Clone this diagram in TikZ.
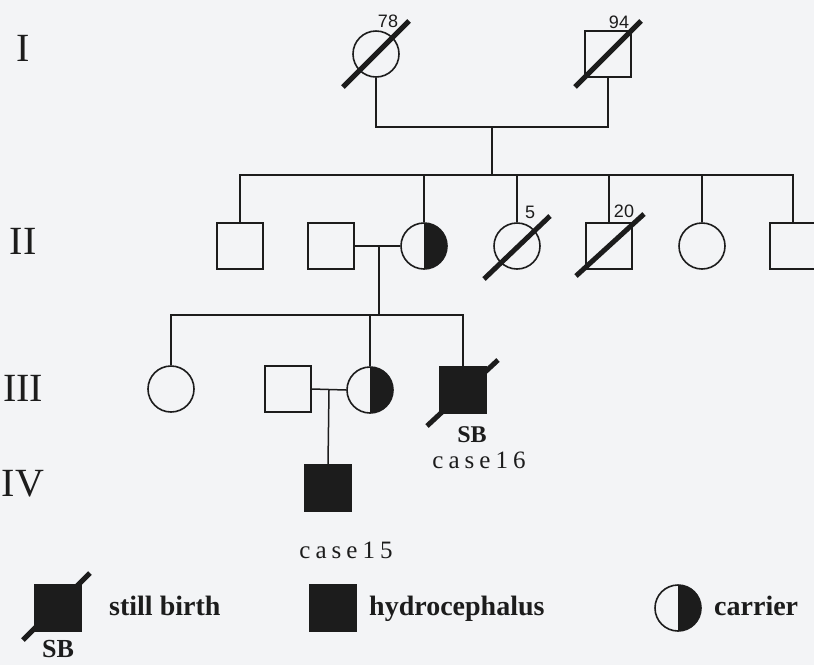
\documentclass[tikz,border=0pt]{standalone}
\usepackage{fontspec}
\setmainfont{Liberation Serif}
\newfontfamily\labsans{Liberation Sans}
\newfontfamily\casefont[LetterSpace=20]{Liberation Serif}
\definecolor{ink}{RGB}{28,28,28}
\definecolor{bg}{RGB}{243,244,246}
\tikzset{
  ln/.style={draw=ink, line width=1.5pt},
  sq/.style={draw=ink, line width=1.6pt, rectangle, minimum size=46pt, inner sep=0pt},
  circ/.style={draw=ink, line width=1.6pt, circle, minimum size=46pt, inner sep=0pt},
  aff/.style={fill=ink},
  slash/.style={draw=ink, line width=5pt},
  gen/.style={font=\fontsize{40}{40}\selectfont, text=ink, inner sep=0pt},
  age/.style={font=\labsans\fontsize{18}{18}\selectfont, text=ink, inner sep=0pt, anchor=base},
  casel/.style={font=\casefont\fontsize{25}{25}\selectfont, text=ink, inner sep=0pt, anchor=base},
  sbl/.style={font=\bfseries\fontsize{24}{24}\selectfont, text=ink, inner sep=0pt, anchor=base},
  legt/.style={font=\bfseries\fontsize{28}{28}\selectfont, text=ink, inner sep=0pt, anchor=base west},
}
\begin{document}
\begin{tikzpicture}[x=1pt,y=-1pt]
\fill[bg] (0,0) rectangle (814,665);
\useasboundingbox (0,0) rectangle (814,665);

% generation numerals
\node[gen] (gI)   at (23,48)  {I};
\node[gen] (gII)  at (23,241) {II};
\node[gen] (gIII) at (23,388) {III};
\node[gen] (gIV)  at (23,484) {IV};

% Generation I
\node[circ] (i1) at (376,54) {};
\node[sq]   (i2) at (608,54) {};
\draw[slash] ([shift={(-33,33)}]i1.center) -- ([shift={(33,-33)}]i1.center);
\draw[slash] ([shift={(-33,33)}]i2.center) -- ([shift={(33,-33)}]i2.center);
\node[age] (a78) at (388,27) {78};
\node[age] (a94) at (619,28) {94};
\coordinate (jI) at (492,127);
\coordinate (sII) at (492,175);
\draw[ln] (i1.south) |- (jI) -| (i2.south);
\draw[ln] (jI) -- (sII);

% Generation II
\node[sq]   (ii1) at (240,246) {};
\node[sq]   (ii2) at (331,246) {};
\node[circ] (ii3) at (424,246) {};
\begin{scope}
  \clip (ii3.north) rectangle ([xshift=30pt]ii3.south);
  \fill[ink] (ii3.center) circle[radius=23pt];
\end{scope}
\node[circ] (ii4) at (517,246) {};
\node[sq]   (ii5) at (609,246) {};
\node[circ] (ii6) at (702,246) {};
\node[sq]   (ii7) at (793,246) {};
\draw[slash] ([shift={(-33,33)}]ii4.center) -- ([shift={(33,-30)}]ii4.center);
\draw[slash] ([shift={(-33,30)}]ii5.center) -- ([shift={(35,-32)}]ii5.center);
\node[age] (a5)  at (530,218) {5};
\node[age] (a20) at (624,217) {20};
\draw[ln] (ii1.north) -- (ii1.north |- sII) -- (ii7.north |- sII) -- (ii7.north);
\draw[ln] (ii3.north) -- (ii3.north |- sII);
\draw[ln] (ii4.north) -- (ii4.north |- sII);
\draw[ln] (ii5.north) -- (ii5.north |- sII);
\draw[ln] (ii6.north) -- (ii6.north |- sII);
\draw[ln] (ii2.east) -- (ii3.west);
\coordinate (mII) at (379,246);
\coordinate (sIII) at (379,315);
\draw[ln] (mII) -- (sIII);

% Generation III
\node[circ] (iii1) at (171,389) {};
\node[sq]   (iii2) at (288,389) {};
\node[circ] (iii3) at (370,390) {};
\begin{scope}
  \clip (iii3.north) rectangle ([xshift=30pt]iii3.south);
  \fill[ink] (iii3.center) circle[radius=23pt];
\end{scope}
\node[sq, aff] (iii4) at (463,390) {};
\draw[slash] ([shift={(-36,36)}]iii4.center) -- ([shift={(35,-30)}]iii4.center);
\draw[ln] (iii1.north) -- (iii1.north |- sIII) -- (iii4.north |- sIII) -- (iii4.north);
\draw[ln] (iii3.north) -- (iii3.north |- sIII);
\draw[ln] (iii2.east) -- (iii3.west);
\coordinate (mIII) at (329,390);
\node[sbl] (sb16) at (472,442) {SB};
\node[casel] (c16) at (479,468) {case16};

% Generation IV
\node[sq, aff] (iv1) at (328,488) {};
\draw[ln] (mIII) -- (iv1.north);
\node[casel] (c15) at (346,558) {case15};

% Legend
\node[sq, aff] (l1) at (58,608) {};
\draw[slash] ([shift={(-35,32)}]l1.center) -- ([shift={(32,-35)}]l1.center);
\node[sbl, font=\bfseries\fontsize{26}{26}\selectfont] (lsb) at (58,657) {SB};
\node[legt] (t1) at (109,615) {still birth};
\node[sq, aff] (l2) at (333,608) {};
\node[legt] (t2) at (369,615) {hydrocephalus};
\node[circ] (l3) at (678,608) {};
\begin{scope}
  \clip (l3.north) rectangle ([xshift=30pt]l3.south);
  \fill[ink] (l3.center) circle[radius=23pt];
\end{scope}
\node[legt] (t3) at (714,615) {carrier};
\end{tikzpicture}
\end{document}
